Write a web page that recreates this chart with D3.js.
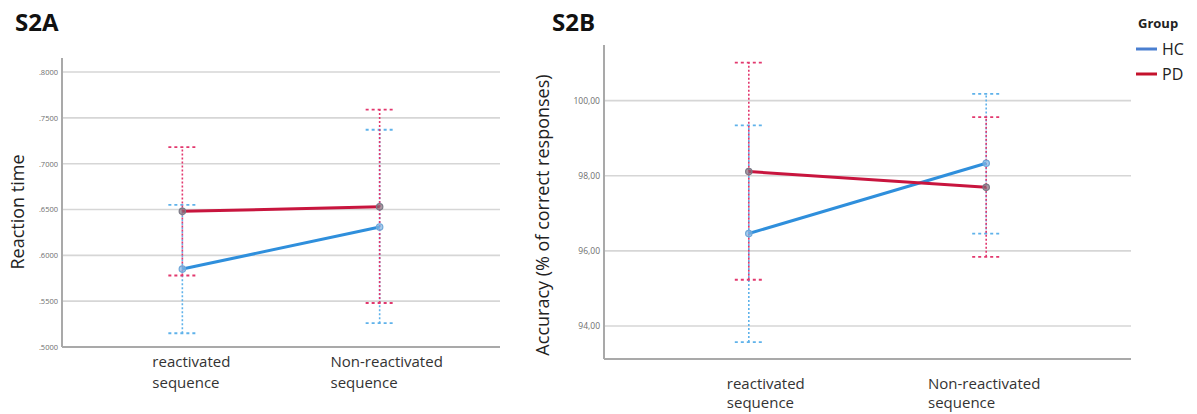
<!DOCTYPE html>
<html>
<head>
<meta charset="utf-8">
<script src="https://cdn.jsdelivr.net/npm/d3@7"></script>
<style>
  html, body { margin: 0; padding: 0; background: #fff; }
  svg { display: block; font-family: "Open Sans", "DejaVu Sans", sans-serif; }
</style>
</head>
<body>
<svg id="chart" width="1197" height="414"></svg>
<script>
// Conditions (x axis) and groups
const conditions = ["reactivated sequence", "Non-reactivated sequence"];
const groups = ["HC", "PD"];

// S2A: reaction time (means and 95% CI bounds) per condition
const rtHC      = [0.585, 0.631];
const rtHCLow   = [0.515, 0.526];
const rtHCHigh  = [0.655, 0.737];
const rtPD      = [0.648, 0.653];
const rtPDLow   = [0.578, 0.548];
const rtPDHigh  = [0.718, 0.759];
const rtTicks   = [0.50, 0.55, 0.60, 0.65, 0.70, 0.75, 0.80];

// S2B: accuracy (% of correct responses) per condition
const accHC      = [96.46, 98.33];
const accHCLow   = [93.57, 96.46];
const accHCHigh  = [99.34, 100.18];
const accPD      = [98.11, 97.69];
const accPDLow   = [95.23, 95.84];
const accPDHigh  = [101.01, 99.56];
const accTicks   = [94, 96, 98, 100];

const lineColor = { HC: "#2f8fdc", PD: "#c8153e" };
const barColor  = { HC: "#5fb2ea", PD: "#e2386e" };
const legendColor = { HC: "#4a7fd0", PD: "#c4122c" };

const svg = d3.select("#chart");

function panel(cfg) {
  const g = svg.append("g");
  const x = d3.scalePoint().domain(conditions)
    .range([cfg.left, cfg.right]).padding(0.61);
  const y = d3.scaleLinear().domain(cfg.domain).range([cfg.bottom, cfg.top]);

  // gridlines
  g.selectAll("line.grid").data(cfg.ticks).enter().append("line")
    .attr("x1", cfg.left).attr("x2", cfg.right)
    .attr("y1", d => y(d)).attr("y2", d => y(d))
    .attr("stroke", "#d6d6d6").attr("stroke-width", 1.6);

  // y axis tick labels
  const yAxis = d3.axisLeft(y).tickValues(cfg.ticks).tickSize(0).tickPadding(3)
    .tickFormat(cfg.format);
  const ya = g.append("g").attr("transform", `translate(${cfg.left - 1},0)`).call(yAxis);
  ya.select(".domain").remove();
  ya.selectAll("text").attr("fill", "#6e6e6e").attr("font-size", cfg.tickSize)
    .attr("font-family", "'Open Sans', sans-serif");

  // axis lines
  g.append("line").attr("x1", cfg.left).attr("x2", cfg.left)
    .attr("y1", cfg.top).attr("y2", cfg.bottom)
    .attr("stroke", "#a9a9a9").attr("stroke-width", 2);
  g.append("line").attr("x1", cfg.left).attr("x2", cfg.right)
    .attr("y1", cfg.bottom).attr("y2", cfg.bottom)
    .attr("stroke", "#a9a9a9").attr("stroke-width", 2);

  // error bars (HC underneath, PD on top)
  const series = {
    HC: { m: cfg.hc, lo: cfg.hcLo, hi: cfg.hcHi },
    PD: { m: cfg.pd, lo: cfg.pdLo, hi: cfg.pdHi }
  };
  groups.forEach(grp => {
    const s = series[grp];
    conditions.forEach((c, i) => {
      const cx = x(c);
      g.append("line").attr("x1", cx).attr("x2", cx)
        .attr("y1", y(s.lo[i])).attr("y2", y(s.hi[i]))
        .attr("stroke", barColor[grp]).attr("stroke-width", 1.6)
        .attr("stroke-dasharray", "2,2");
      [s.lo[i], s.hi[i]].forEach(v => {
        g.append("line").attr("x1", cx - 14).attr("x2", cx + 15)
          .attr("y1", y(v)).attr("y2", y(v))
          .attr("stroke", barColor[grp]).attr("stroke-width", 1.8)
          .attr("stroke-dasharray", "3,3");
      });
    });
  });

  // mean lines
  const line = d3.line().x((d, i) => x(conditions[i])).y(d => y(d));
  groups.forEach(grp => {
    g.append("path").datum(series[grp].m).attr("d", line)
      .attr("fill", "none").attr("stroke", lineColor[grp]).attr("stroke-width", 3);
  });
  // mean markers
  groups.forEach(grp => {
    series[grp].m.forEach((v, i) => {
      g.append("circle").attr("cx", x(conditions[i])).attr("cy", y(v)).attr("r", 3.2)
        .attr("fill", grp === "HC" ? "#7fb6e6" : "#8a6a78")
        .attr("fill-opacity", 0.7)
        .attr("stroke", grp === "HC" ? "#6fa7d8" : "#7a7a86").attr("stroke-width", 1.2);
    });
  });

  // category labels: two left-aligned lines, block centred near the tick
  conditions.forEach((c, i) => {
    const words = c.split(" ");
    const first = g.append("text").attr("font-size", 15).attr("fill", "#333").text(words[0]);
    const width0 = first.node().getComputedTextLength();
    const xStart = x(c) + cfg.labelDx[i] - width0 / 2;
    first.attr("x", xStart).attr("y", cfg.bottom + cfg.labelDy);
    g.append("text").attr("font-size", 15).attr("fill", "#333")
      .attr("x", xStart).attr("y", cfg.bottom + cfg.labelDy + cfg.lineGap).text(words[1]);
  });

  // y axis title
  g.append("text")
    .attr("transform", `translate(${cfg.yTitleX},${cfg.yTitleY}) rotate(-90)`)
    .attr("text-anchor", "middle").attr("font-size", cfg.yTitleSize).attr("fill", "#222")
    .text(cfg.yTitle);

  // panel title
  g.append("text").attr("x", cfg.titleX).attr("y", 31)
    .attr("font-size", 24).attr("font-weight", "bold").attr("fill", "#111")
    .text(cfg.title);
}

panel({
  title: "S2A", titleX: 15,
  left: 62, right: 500, top: 58, bottom: 347,
  domain: [0.5, 0.8153], ticks: rtTicks,
  format: d => d3.format(".4f")(d).replace(/^0/, ""), tickSize: 7.5,
  hc: rtHC, hcLo: rtHCLow, hcHi: rtHCHigh,
  pd: rtPD, pdLo: rtPDLow, pdHi: rtPDHigh,
  labelDx: [9, 7], labelDy: 20, lineGap: 21,
  yTitle: "Reaction time", yTitleX: 24, yTitleY: 212, yTitleSize: 18
});

panel({
  title: "S2B", titleX: 552,
  left: 604, right: 1131, top: 45, bottom: 359,
  domain: [93.12, 101.48], ticks: accTicks,
  format: d => d3.format(".2f")(d).replace(".", ","), tickSize: 8.5,
  hc: accHC, hcLo: accHCLow, hcHi: accHCHigh,
  pd: accPD, pdLo: accPDLow, pdHi: accPDHigh,
  labelDx: [17, -2], labelDy: 30, lineGap: 19,
  yTitle: "Accuracy (% of correct responses)", yTitleX: 549, yTitleY: 215, yTitleSize: 18
});

// legend
const legend = svg.append("g");
legend.append("text").attr("x", 1138).attr("y", 28)
  .attr("font-size", 13).attr("font-weight", "bold").attr("fill", "#222").text("Group");
groups.forEach((grp, i) => {
  const yy = 49 + i * 25;
  legend.append("line").attr("x1", 1136).attr("x2", 1157).attr("y1", yy).attr("y2", yy)
    .attr("stroke", legendColor[grp]).attr("stroke-width", 3);
  legend.append("text").attr("x", 1162).attr("y", yy + 6)
    .attr("font-size", 16).attr("fill", "#222").text(grp);
});
</script>
</body>
</html>
